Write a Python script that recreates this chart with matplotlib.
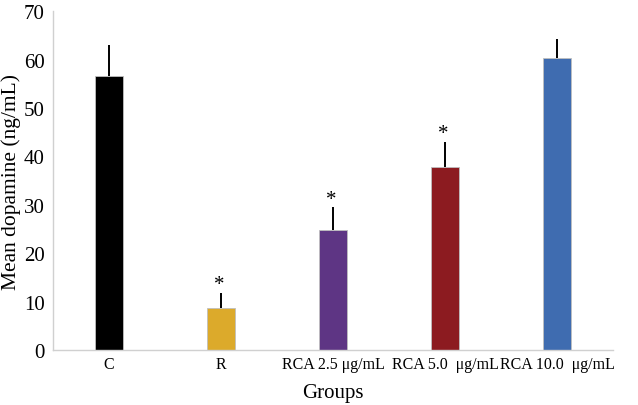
import numpy as np
import matplotlib
matplotlib.use("Agg")
from matplotlib import pyplot as plt

groups = ["C", "R", "RCA 2.5 μg/mL", "RCA 5.0  μg/mL", "RCA 10.0  μg/mL"]
mean_dopamine = [56.6, 8.7, 24.8, 37.8, 60.3]
sd_dopamine = [6.5, 3.1, 4.7, 5.2, 4.0]
significant = [False, True, True, True, False]
bar_colors = ["#000000", "#dcaa2b", "#5e3584", "#8c1b20", "#3f6cb0"]

plt.rcParams["font.family"] = ["Liberation Serif", "DejaVu Serif"]


def main():
    fig = plt.figure(figsize=(6.38, 4.06), dpi=100)
    ax = fig.add_axes([0.083, 0.135, 0.878, 0.835])

    x = np.arange(len(groups))
    ax.bar(x, mean_dopamine, width=0.25, color=bar_colors,
           edgecolor="#bfbfbf", linewidth=0.6, zorder=2)
    # upper half of the error bars only
    ax.errorbar(x, mean_dopamine, yerr=[np.zeros(len(x)), sd_dopamine],
                fmt="none", ecolor="black", elinewidth=1.4, capsize=0, zorder=3)

    for xi, m, s, sig in zip(x, mean_dopamine, sd_dopamine, significant):
        if sig:
            ax.annotate("*", (xi, m + s), xytext=(-1, -1), textcoords="offset points",
                        ha="center", va="bottom", fontsize=15)

    ax.set_xlim(-0.5, 4.5)
    ax.set_ylim(0, 70)
    ax.set_yticks(range(0, 71, 10))
    ax.set_xticks(x)
    ax.set_xticklabels(groups, fontsize=11.5)
    ax.tick_params(axis="y", labelsize=15, length=0, pad=6)
    ax.tick_params(axis="x", length=0, pad=4)

    for side in ["top", "right"]:
        ax.spines[side].set_visible(False)
    for side in ["left", "bottom"]:
        ax.spines[side].set_color("#d0d0d0")
        ax.spines[side].set_linewidth(1.0)

    ax.set_ylabel("Mean dopamine (ng/mL)", fontsize=15.5, labelpad=2)
    ax.set_xlabel("Groups", fontsize=15, labelpad=8)

    fig.savefig("out.png", dpi=100)


if __name__ == "__main__":
    main()
